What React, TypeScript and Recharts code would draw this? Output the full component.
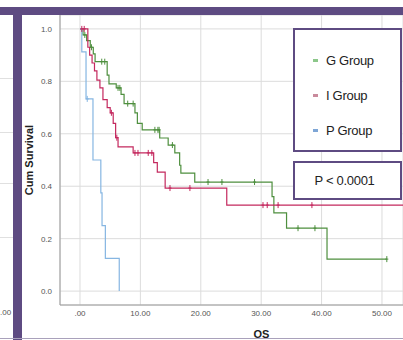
import { CartesianGrid, ComposedChart, Legend, Line, Scatter, XAxis, YAxis } from 'recharts'

const W = 403
const H = 340
const PURPLE = '#5e4b82'

// G Group (step points: time at which survival drops to the new level)
const gTime = [0, 0.5, 1.1, 1.7, 2.2, 2.5, 4.5, 4.8, 6.0, 6.8, 7.3, 9.1, 9.5, 10.3, 13.2, 14.6, 15.7, 16.5, 16.7, 19.0, 31.8, 32.1, 34.2, 40.9, 50.8]
const gSurv = [1.0, 0.977, 0.955, 0.93, 0.905, 0.875, 0.824, 0.79, 0.775, 0.75, 0.715, 0.68, 0.64, 0.615, 0.584, 0.557, 0.527, 0.48, 0.45, 0.416, 0.36, 0.298, 0.24, 0.122, 0.122]
const gCensTime = [0.8, 1.9, 3.6, 4.1, 6.3, 6.6, 7.9, 8.8, 12.4, 12.9, 13.1, 15.3, 21.2, 23.5, 28.9, 36.1, 38.9, 50.8]
const gCensSurv = [0.977, 0.93, 0.875, 0.875, 0.775, 0.775, 0.715, 0.715, 0.615, 0.615, 0.615, 0.557, 0.416, 0.416, 0.416, 0.24, 0.24, 0.122]

// I Group
const iTime = [0, 1.3, 1.6, 2.0, 2.4, 2.8, 3.3, 3.8, 4.5, 5.0, 5.5, 5.9, 6.3, 8.8, 12.2, 12.8, 14.1, 24.3, 53.5]
const iSurv = [1.0, 0.93, 0.9, 0.87, 0.84, 0.805, 0.775, 0.73, 0.7, 0.68, 0.64, 0.585, 0.55, 0.527, 0.49, 0.454, 0.393, 0.328, 0.328]
const iCensTime = [0.3, 0.7, 5.2, 6.1, 9.1, 9.6, 11.3, 11.9, 14.9, 18.2, 30.3, 31.0, 32.8, 38.4]
const iCensSurv = [1.0, 1.0, 0.68, 0.585, 0.527, 0.527, 0.527, 0.527, 0.393, 0.393, 0.328, 0.328, 0.328, 0.328]

// P Group
const pTime = [0, 0.3, 1.0, 2.15, 3.45, 3.65, 4.2, 6.5]
const pSurv = [1.0, 0.912, 0.733, 0.5, 0.375, 0.25, 0.125, 0]
const pCensTime = [1.2]
const pCensSurv = [0.733]

const xTicks = [0, 10, 20, 30, 40, 50]
const yTicks = [0, 0.2, 0.4, 0.6, 0.8, 1.0]
const groups = ['G Group', 'I Group', 'P Group']
const legendColors = ['#8cc78a', '#c98a9c', '#7ea6d6']
const lineColors = ['#4e8f3e', '#c4285e', '#86b6e2']

const toRows = (t: number[], s: number[]) => t.map((v, i) => ({ t: v, s: s[i] }))

const series = [
  { name: groups[0], line: toRows(gTime, gSurv), cens: toRows(gCensTime, gCensSurv), color: lineColors[0] },
  { name: groups[1], line: toRows(iTime, iSurv), cens: toRows(iCensTime, iCensSurv), color: lineColors[1] },
  { name: groups[2], line: toRows(pTime, pSurv), cens: toRows(pCensTime, pCensSurv), color: lineColors[2] },
]

const censorMark = (color: string) => (p: any) => {
  const { cx, cy } = p
  if (cx == null || cy == null) return <g />
  return (
    <path
      d={`M${cx},${cy - 3}V${cy + 3}M${cx - 1.5},${cy}H${cx + 1.5}`}
      stroke={color}
      strokeWidth={1}
      fill="none"
    />
  )
}

const boxStyle = {
  position: 'absolute' as const,
  left: 293,
  width: 109,
  boxSizing: 'border-box' as const,
  border: `2px solid ${PURPLE}`,
  background: '#fff',
}

function LegendBox() {
  return (
    <div style={{ ...boxStyle, position: 'relative', top: 0, left: 0, height: 124 }}>
      {groups.map((g, i) => (
        <div
          key={g}
          style={{ position: 'absolute', left: 18, top: 22 + i * 35, display: 'flex', alignItems: 'center', height: 16 }}
        >
          <span style={{ width: 5, height: 3, background: legendColors[i], marginRight: 8 }} />
          <span style={{ fontSize: 13, color: '#222', letterSpacing: -0.3 }}>{g}</span>
        </div>
      ))}
    </div>
  )
}

const leftStripLines = [78, 132, 183, 237]

export default function App() {
  return (
    <div
      style={{
        position: 'absolute',
        left: 0,
        top: 0,
        width: W,
        height: H,
        overflow: 'hidden',
        background: '#fff',
        fontFamily: '"Liberation Sans", Arial, sans-serif',
      }}
    >
      {leftStripLines.map((y) => (
        <div key={y} style={{ position: 'absolute', left: 0, top: y, width: 13, height: 1, background: '#e0e0e0' }} />
      ))}
      <div style={{ position: 'absolute', left: 0, top: 308, fontSize: 8, color: '#555' }}>.00</div>

      <ComposedChart
        width={W}
        height={H}
        margin={{ top: 15, right: 0, bottom: 0, left: 0 }}
        style={{ position: 'absolute', left: 0, top: 0 }}
      >
        <CartesianGrid stroke="#dcdcdc" />
        <XAxis
          type="number"
          dataKey="t"
          domain={[-3.31, 53.48]}
          ticks={xTicks}
          allowDataOverflow
          height={35}
          stroke="#9a9a9a"
          tickLine={false}
          tickSize={4}
          tickMargin={1}
          tick={{ fill: '#555', fontSize: 8 }}
          tickFormatter={(v: number) => (v === 0 ? '.00' : v.toFixed(2))}
          label={{ value: 'OS', position: 'insideBottom', offset: 2, dx: 30, fill: '#222', fontSize: 11, fontWeight: 700 }}
        />
        <YAxis
          type="number"
          dataKey="s"
          domain={[-0.053, 1.053]}
          ticks={yTicks}
          allowDataOverflow
          width={60}
          stroke="#9a9a9a"
          tickLine={false}
          tick={{ fill: '#555', fontSize: 8 }}
          tickFormatter={(v: number) => v.toFixed(1)}
          label={{ value: 'Cum Survival', angle: -90, position: 'center', dx: -1, fill: '#222', fontSize: 11, fontWeight: 700 }}
        />
        <Legend
          layout="horizontal"
          verticalAlign="middle"
          align="center"
          wrapperStyle={{ position: 'absolute', top: 28, left: 293, width: 109, height: 124 }}
          content={() => <LegendBox />}
        />
        {series.map((s) => (
          <Line
            key={s.name}
            data={s.line}
            dataKey="s"
            name={s.name}
            type="stepAfter"
            stroke={s.color}
            strokeWidth={1.2}
            dot={false}
            activeDot={false}
            legendType="none"
            isAnimationActive={false}
          />
        ))}
        {series.map((s) => (
          <Scatter
            key={s.name + '-c'}
            data={s.cens}
            dataKey="s"
            shape={censorMark(s.color)}
            legendType="none"
            isAnimationActive={false}
          />
        ))}
      </ComposedChart>

      <div style={{ position: 'absolute', left: 0, top: 7, width: W, height: 8, background: PURPLE }} />
      <div style={{ position: 'absolute', left: 13, top: 7, width: 9, height: H - 7, background: PURPLE }} />
      <div style={{ position: 'absolute', left: 0, top: 338, width: W, height: 1, background: '#a9a1bb' }} />

      <div
        style={{
          ...boxStyle,
          top: 161,
          height: 39,
          display: 'flex',
          alignItems: 'center',
          justifyContent: 'center',
          fontSize: 13,
          color: '#222',
          paddingRight: 6,
          letterSpacing: -0.3,
        }}
      >
        P &lt; 0.0001
      </div>
    </div>
  )
}
